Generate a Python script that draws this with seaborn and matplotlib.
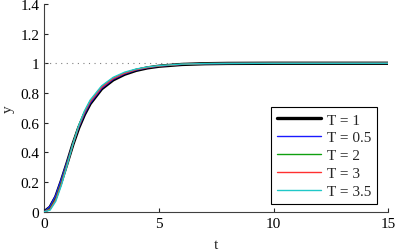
import matplotlib
matplotlib.use('Agg')
import matplotlib.pyplot as plt
import seaborn as sns
import pandas as pd

sns.set_style('ticks')
plt.rcParams['font.family'] = ['Liberation Serif', 'DejaVu Serif']

# time samples
t = [0, 0.25, 0.5, 0.75, 1.0, 1.25, 1.5, 1.75, 2.0, 2.5, 3.0, 3.5,
     4.0, 4.5, 5.0, 6.0, 7.0, 8.0, 10.0, 12.0, 15.0]

# step responses for each T
y_T1 = [0, 0.030, 0.100, 0.210, 0.330, 0.455, 0.565, 0.655, 0.728, 0.828, 0.888, 0.926,
        0.952, 0.969, 0.980, 0.992, 0.997, 0.999, 1.0, 1.0, 1.0]
y_T05 = [0, 0.036, 0.110, 0.222, 0.340, 0.460, 0.568, 0.658, 0.732, 0.832, 0.892, 0.929,
         0.954, 0.970, 0.981, 0.993, 0.997, 0.999, 1.0, 1.0, 1.0]
y_T2 = [0, 0.020, 0.088, 0.200, 0.328, 0.460, 0.578, 0.672, 0.745, 0.842, 0.900, 0.935,
        0.958, 0.973, 0.983, 0.994, 0.998, 0.999, 1.0, 1.0, 1.0]
y_T3 = [0, 0.015, 0.080, 0.190, 0.320, 0.455, 0.574, 0.668, 0.741, 0.838, 0.897, 0.933,
        0.957, 0.972, 0.982, 0.993, 0.998, 0.999, 1.0, 1.0, 1.0]
y_T35 = [0, 0.010, 0.070, 0.180, 0.315, 0.455, 0.580, 0.678, 0.752, 0.848, 0.905, 0.940,
         0.961, 0.975, 0.984, 0.994, 0.998, 0.999, 1.0, 1.0, 1.0]

labels = ['T = 1', 'T = 0.5', 'T = 2', 'T = 3', 'T = 3.5']
series = [y_T1, y_T05, y_T2, y_T3, y_T35]
colors = ['black', '#1a1aff', '#10a010', '#ff3030', '#20c8c8']
widths = [2.4, 1.0, 1.0, 1.0, 1.0]

xticks = [0, 5, 10, 15]
yticks = [0, 0.2, 0.4, 0.6, 0.8, 1.0, 1.2, 1.4]
ytick_labels = ['0', '0.2', '0.4', '0.6', '0.8', '1', '1.2', '1.4']

fig = plt.figure(figsize=(3.98, 2.51), dpi=100)
ax = fig.add_axes([0.1113, 0.1526, 0.8643, 0.8279])

ax.axhline(1.0, color='#808080', ls=(0, (1, 4)), lw=0.8, zorder=1)

for lab, ys, c, w in zip(labels, series, colors, widths):
    df = pd.DataFrame({'t': t, 'y': ys})
    sns.lineplot(data=df, x='t', y='y', ax=ax, color=c, lw=w, label=lab, zorder=3)

ax.set_xlim(0, 15)
ax.set_ylim(0, 1.4)
ax.set_xticks(xticks)
ax.set_xticklabels([str(v) for v in xticks])
ax.set_yticks(yticks)
ax.set_yticklabels(ytick_labels)
ax.tick_params(direction='in', length=3, width=0.8, labelsize=11, colors='#262626',
               labelcolor='black')
for side in ['top', 'right']:
    ax.spines[side].set_visible(False)
for side in ['left', 'bottom']:
    ax.spines[side].set_color('#404040')
    ax.spines[side].set_linewidth(0.8)

ax.set_xlabel('t', fontsize=11, labelpad=6)
ax.set_ylabel('y', fontsize=11, labelpad=4)

leg = ax.legend(loc='lower right', bbox_to_anchor=(0.968, 0.037), fontsize=11,
                frameon=True, fancybox=False, handlelength=2.85, labelspacing=0.27,
                borderpad=0.4, handletextpad=0.4, borderaxespad=0)
leg.get_frame().set_edgecolor('black')
leg.get_frame().set_linewidth(0.8)
leg.get_frame().set_alpha(1)

fig.savefig('out.png', dpi=100)
plt.close(fig)
